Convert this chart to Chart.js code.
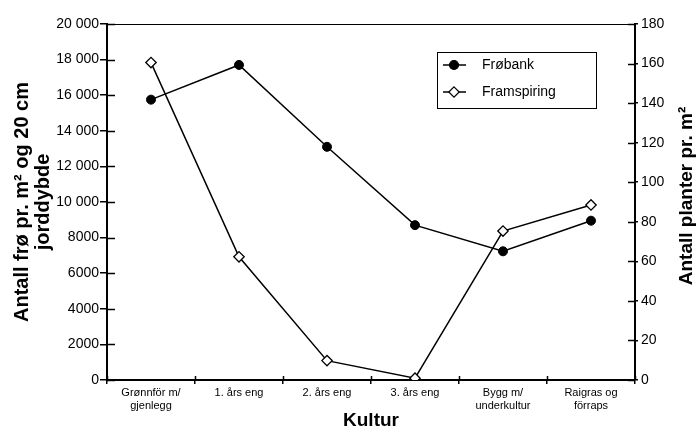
<!DOCTYPE html>
<html>
<head>
<meta charset="utf-8">
<script src="https://cdn.jsdelivr.net/npm/chart.js@4/dist/chart.umd.min.js"></script>
<style>
html,body{margin:0;padding:0;background:#fff;}
#wrap{width:696px;height:432px;}
</style>
</head>
<body>
<div id="wrap"><canvas id="c" width="696" height="432"></canvas></div>
<script>
const categories = [["Grønnför m/","gjenlegg"],"1. års eng","2. års eng","3. års eng",["Bygg m/","underkultur"],["Raigras og","förraps"]];
const frobank = [15750, 17700, 13100, 8700, 7230, 8950];
const framspiring = [160.5, 62.3, 9.8, 0.9, 75.3, 88.5];
const seriesNames = ["Frøbank", "Framspiring"];
const leftTitle = ["Antall frø pr. m² og 20 cm", "jorddybde"];
const rightTitle = "Antall planter pr. m²";
const xTitle = "Kultur";

const FONT = "'Liberation Sans', Arial, sans-serif";

const extras = {
  id: 'extras',
  beforeDatasetsDraw(chart) {
    const ctx = chart.ctx, a = chart.chartArea;
    ctx.save();
    ctx.strokeStyle = '#000';
    ctx.lineWidth = 1;
    ctx.beginPath(); ctx.moveTo(a.left, a.top + 0.5); ctx.lineTo(a.right, a.top + 0.5); ctx.stroke();
    ctx.lineWidth = 1.5;
    const yl = chart.scales.y, yr = chart.scales.y1, x = chart.scales.x;
    yl.ticks.forEach((t, i) => {
      const p = Math.round(yl.getPixelForTick(i)) + 0.5;
      ctx.beginPath(); ctx.moveTo(a.left, p); ctx.lineTo(a.left + 8, p); ctx.stroke();
    });
    yr.ticks.forEach((t, i) => {
      const p = Math.round(yr.getPixelForTick(i)) + 0.5;
      ctx.beginPath(); ctx.moveTo(a.right - 7, p); ctx.lineTo(a.right, p); ctx.stroke();
    });
    for (let i = 0; i <= categories.length; i++) {
      const p = Math.round(x.getPixelForValue(i - 0.5)) + 0.5;
      ctx.beginPath(); ctx.moveTo(p, a.bottom - 4); ctx.lineTo(p, a.bottom); ctx.stroke();
    }
    ctx.restore();
  },
  afterDraw(chart) {
    const ctx = chart.ctx, a = chart.chartArea;
    ctx.save();
    ctx.translate(687, (a.top + a.bottom) / 2 - 6);
    ctx.rotate(-Math.PI / 2);
    ctx.fillStyle = '#000';
    ctx.font = 'bold 19px ' + FONT;
    ctx.textAlign = 'center';
    ctx.textBaseline = 'middle';
    ctx.fillText(rightTitle, 0, 0);
    ctx.restore();

    const bx = 437, by = 52, bw = 159, bh = 56;
    ctx.save();
    ctx.fillStyle = '#fff';
    ctx.fillRect(bx, by, bw, bh);
    ctx.strokeStyle = '#000';
    ctx.lineWidth = 1;
    ctx.strokeRect(bx + 0.5, by + 0.5, bw, bh);
    const rows = [65, 92];
    chart.data.datasets.forEach((ds, i) => {
      const y = rows[i];
      ctx.strokeStyle = '#000';
      ctx.lineWidth = 1.5;
      ctx.beginPath(); ctx.moveTo(443, y); ctx.lineTo(466, y); ctx.stroke();
      ctx.fillStyle = ds.pointBackgroundColor;
      ctx.beginPath();
      if (ds.pointStyle === 'rectRot') {
        const r = ds.pointRadius;
        ctx.moveTo(454, y - r); ctx.lineTo(454 + r, y); ctx.lineTo(454, y + r); ctx.lineTo(454 - r, y); ctx.closePath();
      } else {
        ctx.arc(454, y, ds.pointRadius, 0, Math.PI * 2);
      }
      ctx.fill();
      ctx.lineWidth = 1.2;
      ctx.stroke();
      ctx.fillStyle = '#000';
      ctx.font = '14px ' + FONT;
      ctx.textBaseline = 'middle';
      ctx.textAlign = 'left';
      ctx.fillText(ds.label, 482, y);
    });
    ctx.restore();
  }
};

new Chart(document.getElementById('c'), {
  type: 'line',
  data: {
    labels: categories,
    datasets: [
      {
        label: seriesNames[0],
        data: frobank,
        yAxisID: 'y',
        borderColor: '#000',
        borderWidth: 1.5,
        pointStyle: 'circle',
        pointRadius: 4.5,
        pointBackgroundColor: '#000',
        pointBorderColor: '#000',
        pointBorderWidth: 1,
        tension: 0,
        fill: false
      },
      {
        label: seriesNames[1],
        data: framspiring,
        yAxisID: 'y1',
        borderColor: '#000',
        borderWidth: 1.5,
        pointStyle: 'rectRot',
        pointRadius: 5.2,
        pointBackgroundColor: '#fff',
        pointBorderColor: '#000',
        pointBorderWidth: 1.3,
        tension: 0,
        fill: false
      }
    ]
  },
  options: {
    responsive: false,
    animation: false,
    devicePixelRatio: 1,
    layout: { padding: { top: 24, left: 0, right: 0, bottom: 0 } },
    plugins: { legend: { display: false }, tooltip: { enabled: false } },
    scales: {
      x: {
        offset: true,
        grid: { display: true, drawOnChartArea: false, drawTicks: true, tickLength: 4, color: '#000', lineWidth: 1.5, offset: true },
        border: { display: true, color: '#000', width: 2 },
        ticks: { color: '#000', font: { family: FONT, size: 11 }, padding: 2, maxRotation: 0, autoSkip: false },
        title: { display: true, text: xTitle, color: '#000', font: { family: FONT, size: 19, weight: 'bold', lineHeight: 1.1 }, padding: { top: 0, bottom: 1 } },
        afterFit(s) { s.width = s.width; s.height = 52; }
      },
      y: {
        position: 'left',
        min: 0, max: 20000,
        grid: { display: true, drawOnChartArea: false, drawTicks: true, tickLength: 7, color: '#000', lineWidth: 1.5 },
        border: { display: true, color: '#000', width: 2 },
        ticks: {
          stepSize: 2000, color: '#000', font: { family: FONT, size: 14 }, padding: 1,
          callback: v => v >= 10000 ? String(v).replace(/(\d)(?=(\d{3})+$)/, '$1 ') : String(v)
        },
        title: { display: true, text: leftTitle, color: '#000', font: { family: FONT, size: 20, weight: 'bold', lineHeight: 1.05 }, padding: { top: 12, bottom: 0 } },
        afterFit(s) { s.width = 107; }
      },
      y1: {
        position: 'right',
        min: 0, max: 180,
        grid: { display: true, drawOnChartArea: false, drawTicks: true, tickLength: 3, color: '#000', lineWidth: 1.5 },
        border: { display: true, color: '#000', width: 2 },
        ticks: { stepSize: 20, color: '#000', font: { family: FONT, size: 14 }, padding: 3 },
        title: { display: false },
        afterFit(s) { s.width = 61; }
      }
    }
  },
  plugins: [extras]
});
</script>
</body>
</html>
